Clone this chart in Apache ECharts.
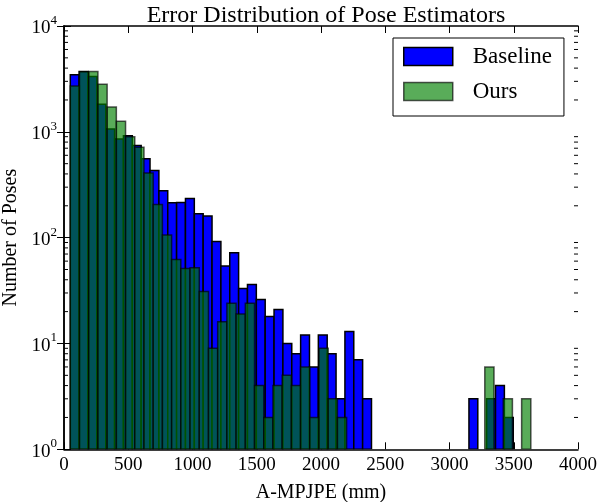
<!DOCTYPE html>
<html>
<head>
<meta charset="utf-8">
<script src="https://cdn.jsdelivr.net/npm/echarts@6/dist/echarts.min.js"></script>
<style>
html,body{margin:0;padding:0;background:#fff;}
#chart{width:598px;height:502px;}
</style>
</head>
<body>
<div id="chart"></div>
<script>
// Histogram ranges (mm) and number of bins for each series
const NUM_BINS = 50;
const baselineRange = [49, 3496];
const oursRange = [49, 3633];

// Counts per bin
const baselineCounts = [3470, 3710, 3330, 1820, 1065, 857, 920, 741, 558, 430,
  277, 214, 215, 235, 168, 160, 92, 54, 72, 33,
  36, 26, 18, 21, 10, 8, 12, 6, 12, 8,
  3, 13, 7, 3, 0, 0, 0, 0, 0, 0,
  0, 0, 0, 0, 0, 3, 0, 3, 4, 2];
const oursCounts = [2716, 3700, 3706, 2818, 1719, 1259, 900, 715, 408, 206,
  106, 62, 51, 52, 31, 9, 16, 24, 19, 24,
  4, 2, 4, 5, 4, 6, 2, 9, 3, 2,
  0, 0, 0, 0, 0, 0, 0, 0, 0, 0,
  0, 0, 0, 0, 0, 6, 0, 3, 0, 3];

const xTicks = [0, 500, 1000, 1500, 2000, 2500, 3000, 3500, 4000];
const yDecades = [1, 10, 100, 1000, 10000];
const seriesNames = ['Baseline', 'Ours'];

const FONT = 'Liberation Serif';

function binData(range, counts) {
  const w = (range[1] - range[0]) / counts.length;
  const out = [];
  counts.forEach((c, i) => {
    if (c > 0) out.push([range[0] + i * w, range[0] + (i + 1) * w, c]);
  });
  return out;
}

function barRenderer(fill, stroke) {
  return function (params, api) {
    const x0 = api.value(0), x1 = api.value(1), c = api.value(2);
    const p0 = api.coord([x0, c]);
    const p1 = api.coord([x1, 1]);
    return {
      type: 'rect',
      shape: { x: p0[0], y: p0[1], width: p1[0] - p0[0], height: p1[1] - p0[1] },
      style: { fill: fill, stroke: stroke, lineWidth: 1.5 }
    };
  };
}

// minor log ticks 2..9 per decade
const minorTicks = [];
for (let d = 0; d < yDecades.length - 1; d++) {
  for (let k = 2; k <= 9; k++) minorTicks.push([k * yDecades[d]]);
}

const chart = echarts.init(document.getElementById('chart'), null, { renderer: 'canvas' });

const axisLineStyle = { color: '#000', width: 1.5 };

const option = {
  backgroundColor: '#fff',
  animation: false,
  title: {
    text: 'Error Distribution of Pose Estimators',
    left: 321, top: -1, textAlign: 'center',
    textStyle: { fontFamily: FONT, fontSize: 24, fontWeight: 'normal', color: '#000' }
  },
  legend: {
    data: [
      { name: seriesNames[0], itemStyle: { color: '#0000ff', borderColor: '#000', borderWidth: 1.5 } },
      { name: seriesNames[1], itemStyle: { color: 'rgba(0,128,0,0.65)', borderColor: 'rgba(0,0,0,0.65)', borderWidth: 1.5 } }
    ],
    orient: 'vertical',
    left: 393, top: 38,
    padding: [7, 12, 13, 10],
    itemWidth: 49, itemHeight: 18, itemGap: 12,
    icon: 'rect',
    borderColor: '#000', borderWidth: 1, backgroundColor: '#fff',
    textStyle: { fontFamily: FONT, fontSize: 23, color: '#000', padding: [0, 0, 0, 15], lineHeight: 22 }
  },
  grid: { left: 64, right: 20, top: 26, bottom: 52.7, containLabel: false, outerBoundsMode: 'none' },
  xAxis: [
    {
      type: 'value', min: 0, max: 4000, interval: 500, position: 'bottom',
      name: 'A-MPJPE (mm)', nameLocation: 'middle', nameGap: 33,
      nameTextStyle: { fontFamily: FONT, fontSize: 20, color: '#000' },
      axisLine: { lineStyle: axisLineStyle },
      axisTick: { inside: true, length: 7, lineStyle: { color: '#000', width: 1 } },
      axisLabel: { fontFamily: FONT, fontSize: 19, color: '#000', margin: 6, formatter: function (v) { return String(v); } },
      splitLine: { show: false }
    },
    {
      type: 'value', min: 0, max: 4000, interval: 500, position: 'top',
      axisLine: { lineStyle: axisLineStyle },
      axisTick: { inside: true, length: 7, lineStyle: { color: '#000', width: 1 } },
      axisLabel: { show: false },
      splitLine: { show: false }
    }
  ],
  yAxis: [
    {
      type: 'log', logBase: 10, min: 1, max: 10000, position: 'left',
      name: 'Number of Poses', nameLocation: 'middle', nameGap: 43, nameRotate: 90,
      nameTextStyle: { fontFamily: FONT, fontSize: 20, color: '#000' },
      axisLine: { lineStyle: axisLineStyle },
      axisTick: { inside: true, length: 7, lineStyle: { color: '#000', width: 1 } },
      axisLabel: {
        margin: 7,
        formatter: function (v) {
          return '{b|10}{s|' + Math.round(Math.log10(v)) + '}';
        },
        rich: {
          b: { fontFamily: FONT, fontSize: 19, color: '#000', lineHeight: 24, verticalAlign: 'bottom' },
          s: { fontFamily: FONT, fontSize: 13, color: '#000', lineHeight: 13, verticalAlign: 'top' }
        }
      },
      splitLine: { show: false }
    },
    {
      type: 'log', logBase: 10, min: 1, max: 10000, position: 'right',
      axisLine: { lineStyle: axisLineStyle },
      axisTick: { inside: true, length: 7, lineStyle: { color: '#000', width: 1 } },
      axisLabel: { show: false },
      splitLine: { show: false }
    }
  ],
  series: [
    {
      name: seriesNames[0], type: 'custom', xAxisIndex: 0, yAxisIndex: 0,
      data: binData(baselineRange, baselineCounts),
      encode: { x: [0, 1], y: 2 },
      itemStyle: { color: '#0000ff' },
      renderItem: barRenderer('#0000ff', '#000'),
      silent: true, clip: true, z: 2
    },
    {
      name: seriesNames[1], type: 'custom', xAxisIndex: 0, yAxisIndex: 0,
      data: binData(oursRange, oursCounts),
      encode: { x: [0, 1], y: 2 },
      itemStyle: { color: 'rgba(0,128,0,0.65)' },
      renderItem: barRenderer('rgba(0,128,0,0.65)', 'rgba(0,0,0,0.65)'),
      silent: true, clip: true, z: 3
    },
    {
      name: 'minorTicks', type: 'custom', xAxisIndex: 0, yAxisIndex: 0,
      data: minorTicks,
      encode: { y: 0 },
      renderItem: function (params, api) {
        const v = api.value(0);
        const pl = api.coord([0, v]);
        const pr = api.coord([4000, v]);
        return {
          type: 'group',
          children: [
            { type: 'line', shape: { x1: pl[0], y1: pl[1], x2: pl[0] + 4, y2: pl[1] }, style: { stroke: '#000', lineWidth: 1 } },
            { type: 'line', shape: { x1: pr[0], y1: pr[1], x2: pr[0] - 4, y2: pr[1] }, style: { stroke: '#000', lineWidth: 1 } }
          ]
        };
      },
      silent: true, z: 5
    }
  ]
};

chart.setOption(option);
</script>
</body>
</html>
